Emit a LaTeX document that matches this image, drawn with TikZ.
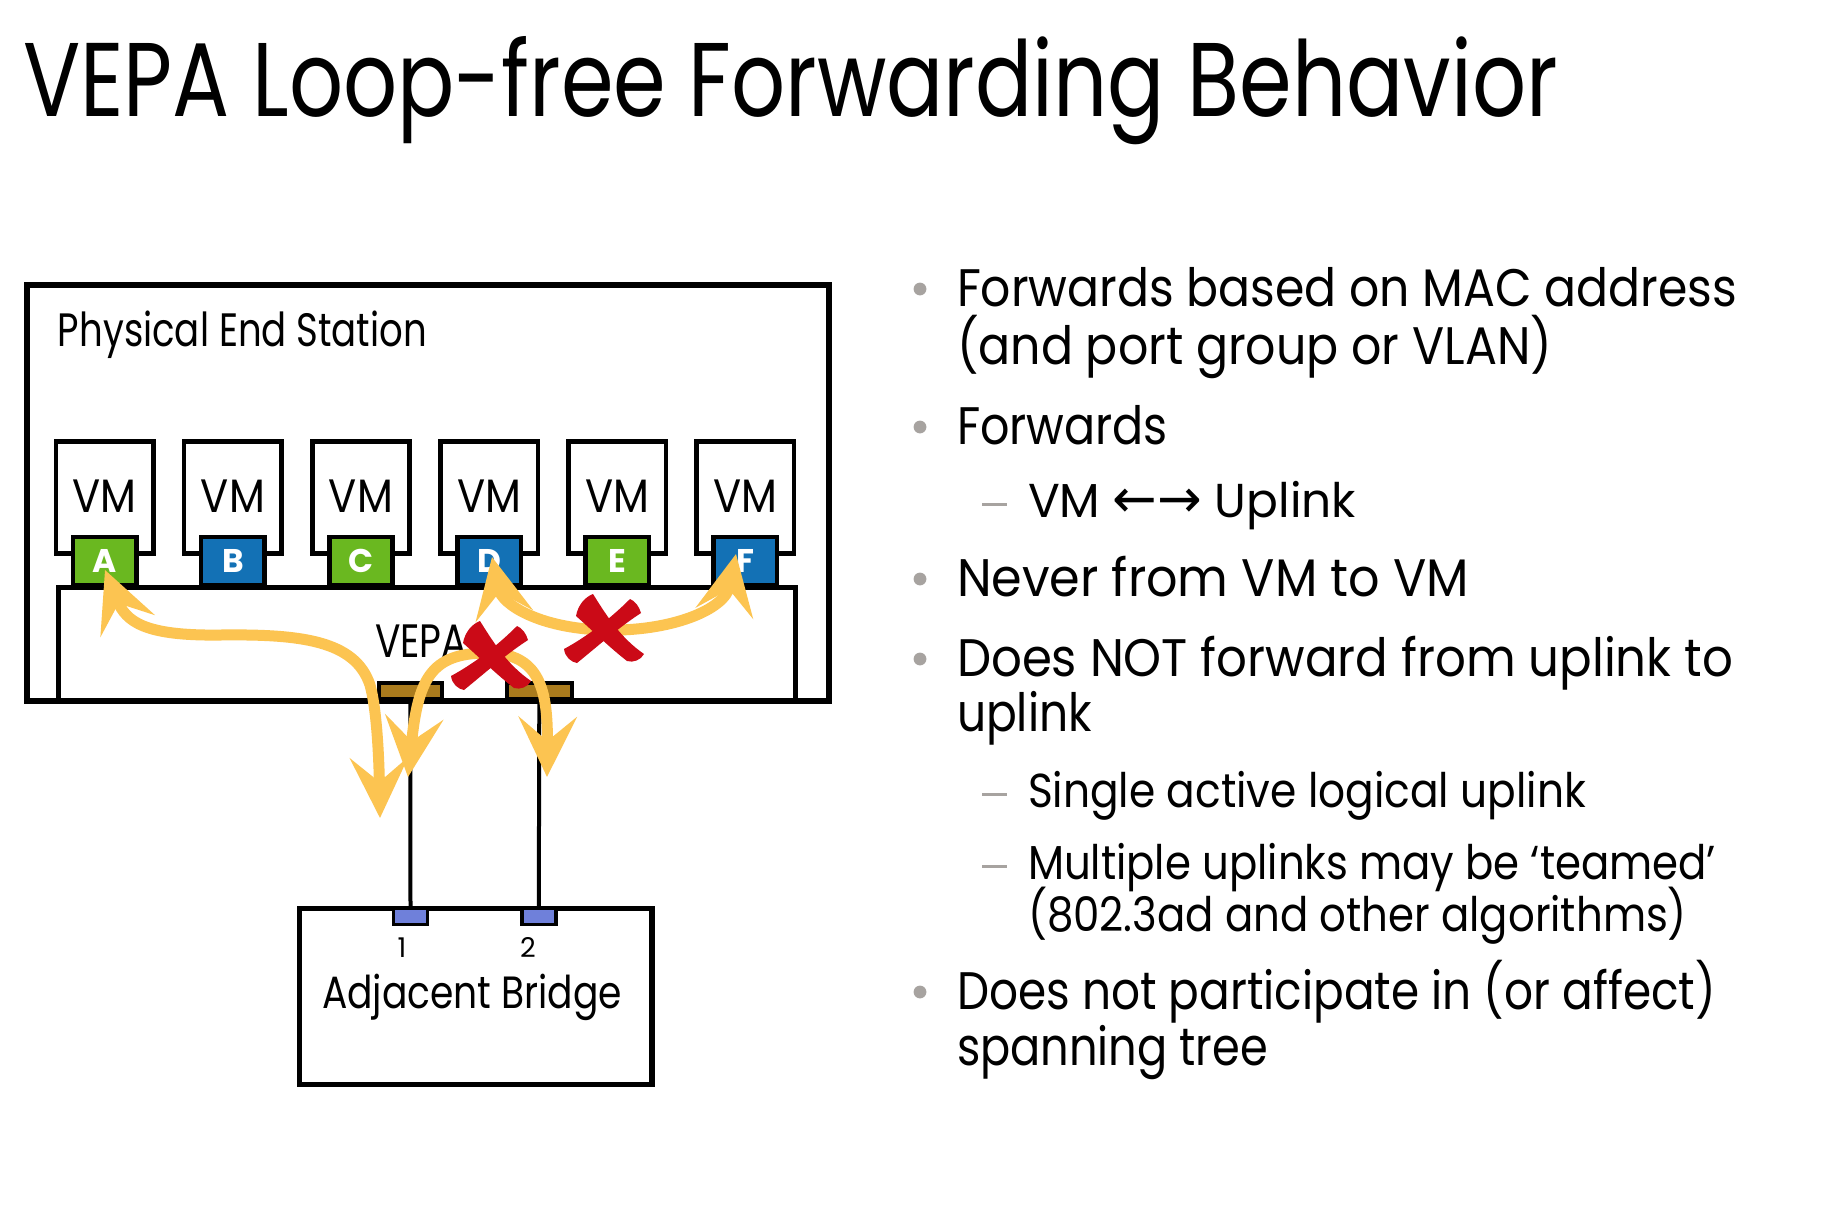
\documentclass[tikz,border=0pt]{standalone}
\usepackage{fontspec}
\usepackage{graphicx}
\setmainfont{Poppins}
\newfontfamily\arrowfont{DejaVu Sans}
\usetikzlibrary{arrows.meta}
\definecolor{flowc}{HTML}{FCC451}
\definecolor{xred}{HTML}{CB0A17}
\definecolor{pgreen}{HTML}{6AB820}
\definecolor{pblue}{HTML}{1371B5}
\definecolor{pbrown}{HTML}{AA7B1D}
\definecolor{bport}{HTML}{6F80DA}
\definecolor{bulc}{HTML}{A7A3A0}
\newsavebox\fitbox
\newcommand\fitw[2]{\sbox\fitbox{#2}\pgfmathsetmacro\fitr{0.5*(#1)/\the\wd\fitbox}\scalebox{\fitr}[1]{\usebox\fitbox}}
\newcommand\mainsz{\fontsize{26.4pt}{30pt}\selectfont}
\newcommand\subsz{\fontsize{23.8pt}{28pt}\selectfont}
\tikzset{
  txt/.style={anchor=base west, inner sep=0pt, outer sep=0pt},
  ctxt/.style={anchor=base, inner sep=0pt, outer sep=0pt},
  boxst/.style={draw=black, fill=white, line width=2.9pt, inner sep=0pt, anchor=north west},
  vmbox/.style={draw=black, fill=white, line width=2.3pt, inner sep=0pt, minimum width=97.5*0.5pt, minimum height=111.6*0.5pt},
  portst/.style={draw=black, line width=2.2pt, inner sep=0pt, minimum width=63.3*0.5pt, minimum height=48*0.5pt, text=white, font=\fontsize{16.4pt}{18pt}\selectfont\bfseries},
  upport/.style={draw=black, fill=pbrown, line width=1.8pt, inner sep=0pt, anchor=north west, minimum height=16*0.5pt},
  brport/.style={draw=black, fill=bport, line width=1.8pt, inner sep=0pt, anchor=north west, minimum width=34*0.5pt, minimum height=16.7*0.5pt},
  link/.style={draw=black, line width=2pt},
  flow/.style={draw=flowc, line width=5.5pt, {Stealth[length=30pt,width=29pt,inset=12pt]}-{Stealth[length=30pt,width=29pt,inset=12pt]}},
  bul/.style={circle, fill=bulc, inner sep=0pt, minimum size=6.4pt},
  dashmark/.style={draw=bulc, line width=1.5pt},
  redx/.pic={
    \fill[xred] (-10,-36) .. controls (5,-12) and (18,8) .. (41,24) .. controls (38,30) and (30,33) .. (24,31) .. controls (6,17) and (-10,1) .. (-27,-14) .. controls (-25,-25) and (-18,-33) .. cycle;
    \fill[xred] (27,-31) .. controls (8,-12) and (-15,6) .. (-39,19) .. controls (-38,27) and (-32,32) .. (-26,33) .. controls (-5,16) and (15,-2) .. (38,-17) .. controls (36,-24) and (32,-29) .. cycle;
  }
}
\begin{document}
\begin{tikzpicture}[x=0.5pt,y=-0.5pt]
\useasboundingbox (0,0) rectangle (1826,1212);
\fill[white] (0,0) rectangle (1826,1212);
% title
\node[txt] (title) at (23,116) {\fitw{1535}{\fontsize{52.4pt}{60pt}\selectfont VEPA Loop-free Forwarding Behavior}};
% physical end station
\node[boxst, minimum width=802*0.5pt, minimum height=416*0.5pt] (pes) at (24,282) {};
\node[txt] (pestxt) at (58,346) {\fitw{369}{\fontsize{23.4pt}{28pt}\selectfont Physical End Station}};
\node[boxst, line width=2.6pt, minimum width=737*0.5pt, minimum height=113*0.5pt] (vepa) at (56,585) {};
\node[txt] (vepatxt) at (375,657) {\fitw{92}{\fontsize{23.4pt}{28pt}\selectfont VEPA}};
\foreach \i/\L/\c in {0/A/pgreen,1/B/pblue,2/C/pgreen,3/D/pblue,4/E/pgreen,5/F/pblue} {
  \pgfmathsetmacro\cx{104.75+128.1*\i}
  \node[vmbox] (vm\L) at (\cx,497.5) {};
  \node[ctxt] (vmt\L) at (\cx,512.7) {\fitw{64}{\fontsize{23.4pt}{28pt}\selectfont VM}};
  \node[portst, fill=\c] (p\L) at (\cx,561) {\L};
}
% uplink ports
\node[upport, minimum width=63*0.5pt] (up1) at (377,681) {};
\node[upport, minimum width=65*0.5pt] (up2) at (505,681) {};
% adjacent bridge
\node[boxst, line width=2.7pt, minimum width=352.6*0.5pt, minimum height=175.7*0.5pt] (bridge) at (296.7,906) {};
\node[brport] (bp1) at (391.7,906) {};
\node[brport] (bp2) at (520,906) {};
\node[ctxt] (n1) at (402,957) {\fontsize{13.6pt}{16pt}\selectfont 1};
\node[ctxt] (n2) at (528,957) {\fontsize{13.6pt}{16pt}\selectfont 2};
\node[txt] (brtxt) at (322,1008) {\fitw{300}{\fontsize{22.6pt}{27pt}\selectfont Adjacent Bridge}};
\draw[link] (up1.south) -- (bp1.north);
\draw[link] (up2.south) -- (bp2.north);
% flows
\coordinate (fa) at (105,570);
\coordinate (fu1) at (380,818);
\draw[flow] (fa) .. controls (126,622) and (145,636) .. (220,635) .. controls (300,634) and (355,640) .. (370,685) .. controls (377,710) and (379,760) .. (fu1);
\coordinate (fd) at (492,557);
\coordinate (ff) at (736,554);
\draw[flow] (fd) .. controls (502,605) and (540,628) .. (603,630) .. controls (670,632) and (725,610) .. (ff);
\pic at (603,630) {redx};
\coordinate (fl) at (408,777);
\coordinate (fr) at (547,777);
\draw[flow] (fl) .. controls (418,680) and (430,653) .. (487,653) .. controls (540,653) and (548,690) .. (fr);
\pic at (490,657) {redx};
% bullets
\node[bul] (b1) at (920,289) {};
\node[bul] (b2) at (920,427) {};
\node[bul] (b3) at (920,579) {};
\node[bul] (b4) at (920,659) {};
\node[bul] (b5) at (920,992) {};
\draw[dashmark] (982,504) -- (1007,504);
\draw[dashmark] (982,794) -- (1007,794);
\draw[dashmark] (982,866) -- (1007,866);
\node[txt] (l1) at (957,306) {\fitw{780}{\mainsz Forwards based on MAC address}};
\node[txt] (l2) at (957,364) {\fitw{595}{\mainsz (and port group or VLAN)}};
\node[txt] (l3) at (957,444) {\fitw{211}{\mainsz Forwards}};
\node[txt] (l4) at (1028,517) {\fitw{328}{\subsz VM {\arrowfont\fontsize{27pt}{28pt}\selectfont ←→} Uplink}};
\node[txt] (l5) at (957,596) {\fitw{512}{\mainsz Never from VM to VM}};
\node[txt] (l6) at (957,676) {\fitw{776}{\mainsz Does NOT forward from uplink to}};
\node[txt] (l7) at (957,731) {\fitw{135}{\mainsz uplink}};
\node[txt] (l8) at (1028,807) {\fitw{558}{\subsz Single active logical uplink}};
\node[txt] (l9) at (1028,879) {\fitw{688}{\subsz Multiple uplinks may be ‘teamed’}};
\node[txt] (l10) at (1028,931) {\fitw{659}{\subsz (802.3ad and other algorithms)}};
\node[txt] (l11) at (957,1009) {\fitw{759}{\mainsz Does not participate in (or affect)}};
\node[txt] (l12) at (957,1065) {\fitw{311}{\mainsz spanning tree}};
\end{tikzpicture}
\end{document}
